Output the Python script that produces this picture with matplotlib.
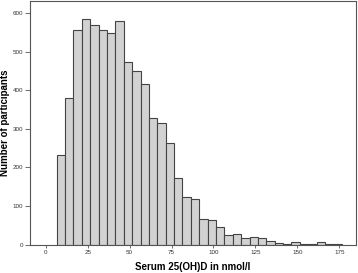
import matplotlib
matplotlib.use("Agg")
from matplotlib import pyplot as plt
import numpy as np

plt.rcParams['font.family'] = ['Liberation Sans', 'DejaVu Sans']

# histogram of serum 25(OH)D, bins of 5 nmol/l starting at 6.5
bin_start = 6.5
bin_width = 5
counts = [232, 380, 556, 585, 568, 557, 548, 580, 473, 449, 417, 329, 314, 264,
          172, 124, 118, 67, 64, 47, 25, 28, 17, 20, 17, 10, 4, 3, 7, 3, 2, 6, 1, 3]
xticks = [0, 25, 50, 75, 100, 125, 150, 175]
yticks = [0, 100, 200, 300, 400, 500, 600]

edges = bin_start + bin_width * np.arange(len(counts))

fig = plt.figure(figsize=(3.58, 2.73), dpi=100)
ax = fig.add_axes([0.0838, 0.1037, 0.9106, 0.8926])

ax.bar(edges, counts, width=bin_width, align='edge',
       color='#d2d2d2', edgecolor='#444444', linewidth=0.8)

ax.set_xlim(-9.4, 185)
ax.set_ylim(0, 631)
ax.set_xticks(xticks)
ax.set_yticks(yticks)

for s in ax.spines.values():
    s.set_color('#555555')
    s.set_linewidth(0.8)

ax.tick_params(axis='both', direction='out', length=2.5, width=0.6,
               colors='#555555', labelsize=4.5, pad=1.5, labelcolor='#333333')
ax.tick_params(axis='y', length=3.5)

ax.set_xlabel("Serum 25(OH)D in nmol/l", fontsize=7, fontweight='bold')
ax.set_ylabel("Number of participants", fontsize=7, fontweight='bold')
ax.xaxis.set_label_coords(0.5, -0.09, transform=ax.transAxes)
ax.yaxis.set_label_coords(-0.077, 0.5, transform=ax.transAxes)
ax.xaxis.label.set_va('center')
ax.yaxis.label.set_va('center')

fig.savefig("out.png", dpi=100)
